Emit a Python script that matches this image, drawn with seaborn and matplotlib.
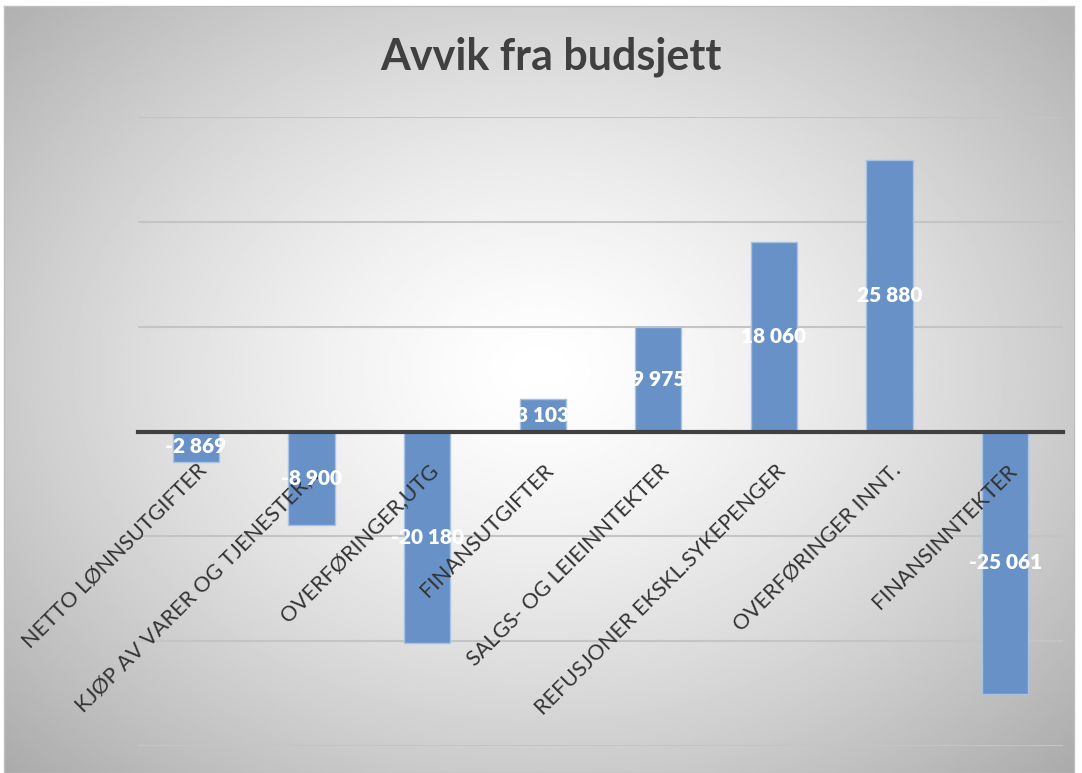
import numpy as np
import pandas as pd
import seaborn as sns
import matplotlib.pyplot as plt
import matplotlib.transforms as mtransforms

categories = [
    "NETTO LØNNSUTGIFTER",
    "KJØP AV VARER OG TJENESTER,...",
    "OVERFØRINGER,UTG",
    "FINANSUTGIFTER",
    "SALGS- OG LEIEINNTEKTER",
    "REFUSJONER EKSKL.SYKEPENGER",
    "OVERFØRINGER INNT.",
    "FINANSINNTEKTER",
]
values = [-2869, -8900, -20180, 3103, 9975, 18060, 25880, -25061]

df = pd.DataFrame({"post": categories, "avvik": values})

sns.set_style("white")
plt.rcParams["font.family"] = ["Lato", "DejaVu Sans"]

fig = plt.figure(figsize=(10.82, 7.73), dpi=100)

# radial gradient background
bg = fig.add_axes([0.004, 0.0, 0.989, 0.992])
yy, xx = np.mgrid[-1:1:400j, -1:1:560j]
r = np.sqrt((xx * 0.95) ** 2 + ((yy + 0.05) * 0.9) ** 2)
shade = np.clip(1.0 - 0.22 * r ** 1.4, 0, 1)
bg.imshow(shade, cmap="gray", vmin=0, vmax=1, aspect="auto", extent=[0, 1, 0, 1])
bg.set_xticks([])
bg.set_yticks([])
for s in bg.spines.values():
    s.set_color("#BFBFBF")
    s.set_linewidth(1)

ax = fig.add_axes([0.1275, 0.0349, 0.855, 0.8137])
ax.set_facecolor("none")
sns.barplot(data=df, x="post", y="avvik", color="#6791C7", saturation=1,
            width=0.4, edgecolor="#A8C2E2", linewidth=1, ax=ax, zorder=3)

ax.set_ylim(-30000, 30000)
ax.set_xlim(-0.5, len(categories) - 0.5)
ax.set_yticks(np.arange(-30000, 30001, 10000))
ax.yaxis.grid(True, color="#C4C4C4", linewidth=1.5, zorder=0)
ax.set_axisbelow(True)
ax.set_yticklabels([])
ax.tick_params(axis="y", length=0)
ax.set_xlabel("")
ax.set_ylabel("")
for s in ["left", "right", "top"]:
    ax.spines[s].set_visible(False)
ax.spines["bottom"].set_position(("data", 0))
ax.spines["bottom"].set_color("#404040")
ax.spines["bottom"].set_linewidth(3)
ax.spines["bottom"].set_zorder(4)

ax.xaxis.set_zorder(5)
ax.tick_params(axis="x", length=0, pad=26)
ax.set_xticks(range(len(categories)))
ax.set_xticklabels(categories, rotation=45, ha="right", va="center",
                   rotation_mode="anchor", fontsize=15.5, color="#333333")
offset = mtransforms.ScaledTranslation(8 / 100, 0, fig.dpi_scale_trans)
for lab in ax.get_xticklabels():
    lab.set_transform(lab.get_transform() + offset)

for i, v in enumerate(values):
    txt = f"{v:,}".replace(",", " ")
    ax.text(i, v / 2, txt, ha="center", va="center", color="white",
            fontsize=15, fontweight="heavy", zorder=6)

fig.text(0.509, 0.926, "Avvik fra budsjett", ha="center", va="center",
         fontsize=31, fontweight="bold", color="#404040")

fig.savefig("out.png", dpi=100)
